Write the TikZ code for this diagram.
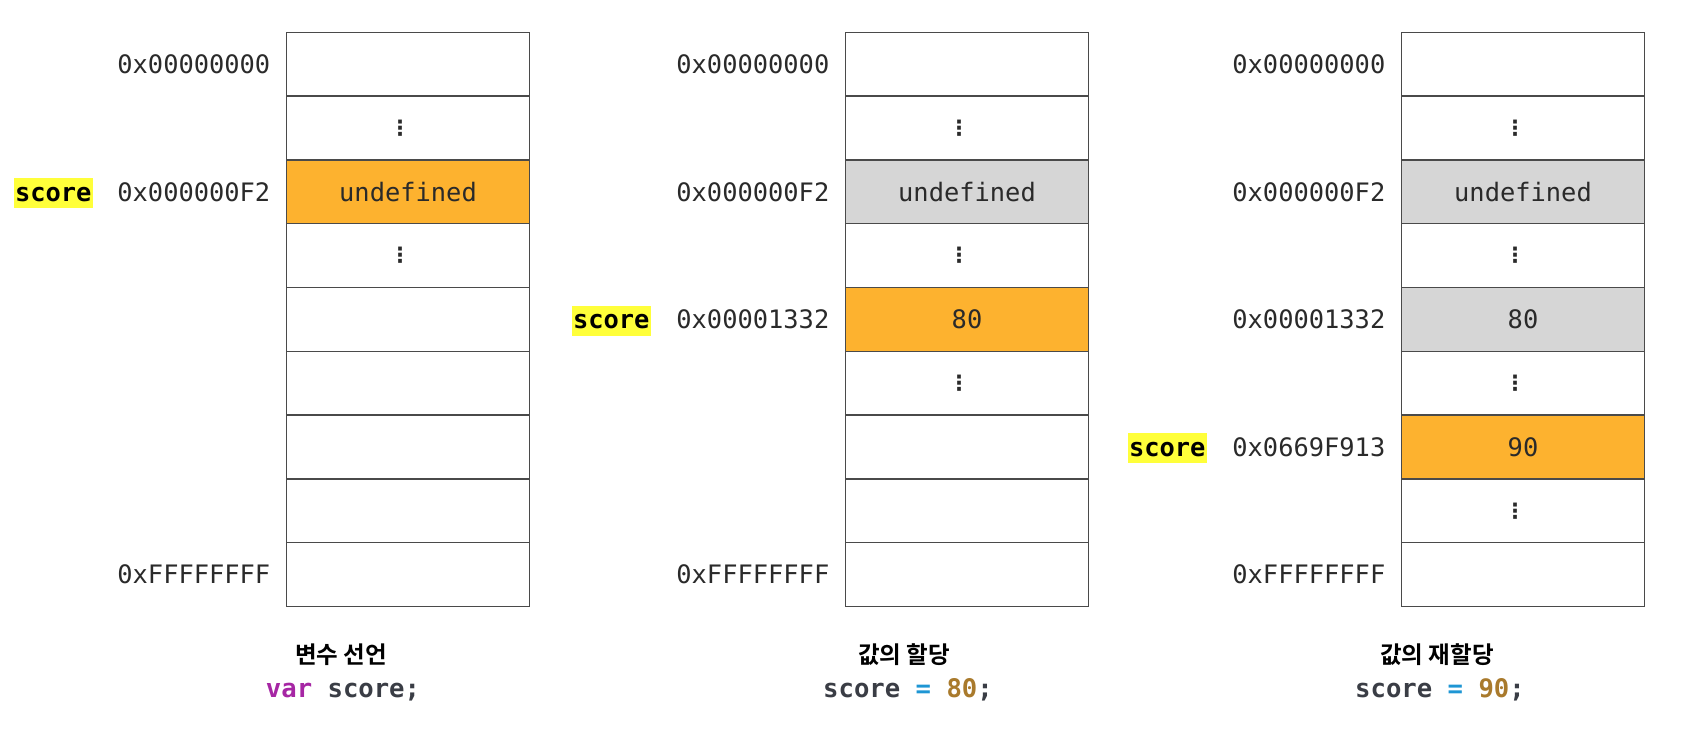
\documentclass[tikz,border=0pt]{standalone}
\usepackage{fontspec}
\usetikzlibrary{positioning}
\newfontfamily\monofont{DejaVu Sans Mono}
\newfontfamily\dotfont{DejaVu Sans}
\newfontfamily\krfont{Noto Sans CJK KR}[BoldFont={* Bold}]
\definecolor{linec}{HTML}{4A4A4A}
\definecolor{hotc}{HTML}{FDB22F}
\definecolor{oldc}{HTML}{D6D6D6}
\definecolor{textc}{HTML}{2A2A2A}
\definecolor{hily}{HTML}{FFFF3A}
\definecolor{codec}{HTML}{3A3D45}
\definecolor{kwc}{HTML}{A626A4}
\definecolor{opc}{HTML}{1E96D4}
\definecolor{numc}{HTML}{A97A2C}
\begin{document}
\begin{tikzpicture}[x=1pt,y=-1pt,
  cell/.style={draw=linec, line width=1.5pt, minimum width=243pt, minimum height=63.8pt,
    inner sep=0pt, outer sep=0pt, text=textc, font=\monofont\fontsize{25.4pt}{30pt}\selectfont},
  hot/.style={cell, fill=hotc},
  old/.style={cell, fill=oldc},
  vd/.style={cell, font=\dotfont\bfseries\fontsize{21pt}{24pt}\selectfont},
  addr/.style={anchor=east, inner sep=0pt, text=textc, font=\monofont\fontsize{25.4pt}{30pt}\selectfont},
  varlbl/.style={fill=hily, anchor=base east, inner xsep=1.5pt, inner ysep=1pt, text height=22pt, text depth=6pt, text=black,
    font=\monofont\bfseries\fontsize{25.4pt}{30pt}\selectfont},
  kr/.style={anchor=base, inner sep=0pt, text=black, font=\krfont\bfseries\fontsize{23.5pt}{28pt}\selectfont},
  code/.style={anchor=base, inner sep=0pt, text=codec, font=\monofont\bfseries\fontsize{25.6pt}{30pt}\selectfont}
]
\useasboundingbox[fill=white] (0,0) rectangle (1689,736);

% column 1
\node[cell] (a0) at (408,64.2) {};
\node[vd] (a1) at (408,128) {\kern-16pt ⋮};
\node[hot] (a2) at (408,191.8) {undefined};
\node[vd] (a3) at (408,255.6) {\kern-16pt ⋮};
\node[cell] (a4) at (408,319.4) {};
\node[cell] (a5) at (408,383.2) {};
\node[cell] (a6) at (408,447) {};
\node[cell] (a7) at (408,510.8) {};
\node[cell] (a8) at (408,574.6) {};
\node[addr, left=16pt of a0] (la0) {0x00000000};
\node[addr, left=16pt of a2] (la2) {0x000000F2};
\node[addr, left=16pt of a8] (la8) {0xFFFFFFFF};
\node[varlbl] (sa) at ([xshift=-24pt]la2.base west) {score};

% column 2
\node[cell] (b0) at (967,64.2) {};
\node[vd] (b1) at (967,128) {\kern-16pt ⋮};
\node[old] (b2) at (967,191.8) {undefined};
\node[vd] (b3) at (967,255.6) {\kern-16pt ⋮};
\node[hot] (b4) at (967,319.4) {80};
\node[vd] (b5) at (967,383.2) {\kern-16pt ⋮};
\node[cell] (b6) at (967,447) {};
\node[cell] (b7) at (967,510.8) {};
\node[cell] (b8) at (967,574.6) {};
\node[addr, left=16pt of b0] (lb0) {0x00000000};
\node[addr, left=16pt of b2] (lb2) {0x000000F2};
\node[addr, left=16pt of b4] (lb4) {0x00001332};
\node[addr, left=16pt of b8] (lb8) {0xFFFFFFFF};
\node[varlbl] (sb) at ([xshift=-25pt]lb4.base west) {score};

% column 3
\node[cell] (c0) at (1523,64.2) {};
\node[vd] (c1) at (1523,128) {\kern-16pt ⋮};
\node[old] (c2) at (1523,191.8) {undefined};
\node[vd] (c3) at (1523,255.6) {\kern-16pt ⋮};
\node[old] (c4) at (1523,319.4) {80};
\node[vd] (c5) at (1523,383.2) {\kern-16pt ⋮};
\node[hot] (c6) at (1523,447) {90};
\node[vd] (c7) at (1523,510.8) {\kern-16pt ⋮};
\node[cell] (c8) at (1523,574.6) {};
\node[addr, left=16pt of c0] (lc0) {0x00000000};
\node[addr, left=16pt of c2] (lc2) {0x000000F2};
\node[addr, left=16pt of c4] (lc4) {0x00001332};
\node[addr, left=16pt of c6] (lc6) {0x0669F913};
\node[addr, left=16pt of c8] (lc8) {0xFFFFFFFF};
\node[varlbl] (sc) at ([xshift=-25pt]lc6.base west) {score};

% captions
\node[kr] (ka) at (341,663) {변수 선언};
\node[code] (da) at (343,697) {\textcolor{kwc}{var} score;};
\node[kr] (kb) at (904,663) {값의 할당};
\node[code] (db) at (908,697) {score \textcolor{opc}{=} \textcolor{numc}{80};};
\node[kr] (kc) at (1437,663) {값의 재할당};
\node[code] (dc) at (1440,697) {score \textcolor{opc}{=} \textcolor{numc}{90};};
\end{tikzpicture}
\end{document}
